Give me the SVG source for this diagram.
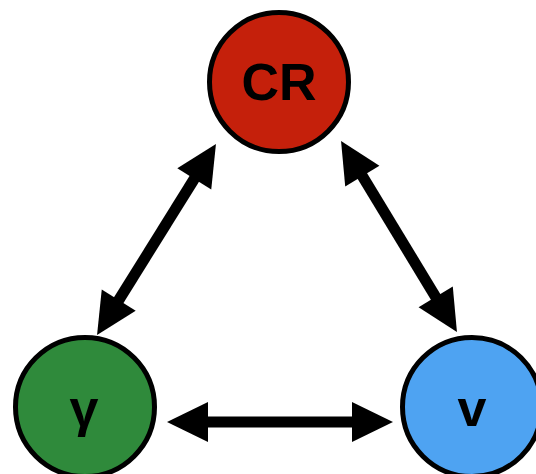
<svg xmlns="http://www.w3.org/2000/svg" width="536" height="474" viewBox="0 0 536 474">
<defs>
<style>
.node{stroke:#000;stroke-width:5}
.lbl{font-family:"Liberation Sans",Arial,sans-serif;font-weight:bold;font-size:52px;fill:#000;text-anchor:middle}
.edge{stroke:#000;stroke-width:11;fill:none}
</style>
<marker id="ah" markerUnits="userSpaceOnUse" markerWidth="42" markerHeight="42" refX="1" refY="20" orient="auto-start-reverse" viewBox="0 0 42 40" overflow="visible">
<path d="M0,0 L41,20 L0,40 Z" fill="#000"/>
</marker>
</defs>
<rect width="536" height="474" fill="#fff"/>
<g id="connectors">
<line class="edge" x1="194.8" y1="178" x2="118.2" y2="301" marker-start="url(#ah)" marker-end="url(#ah)"/>
<line class="edge" x1="361.8" y1="175.2" x2="436.2" y2="297.8" marker-start="url(#ah)" marker-end="url(#ah)"/>
<line class="edge" x1="207" y1="422" x2="353" y2="422" marker-start="url(#ah)" marker-end="url(#ah)"/>
</g>
<g id="CR">
<circle class="node" cx="279" cy="82" r="69.5" fill="#C5200B"/>
<text class="lbl" x="279" y="100">CR</text>
</g>
<g id="gamma">
<circle class="node" cx="85" cy="407" r="69.5" fill="#2F8A3B"/>
<text class="lbl" x="84" y="426">γ</text>
</g>
<g id="v">
<circle class="node" cx="472" cy="407" r="69.5" fill="#4EA3F2"/>
<text class="lbl" x="472" y="426">v</text>
</g>
</svg>
